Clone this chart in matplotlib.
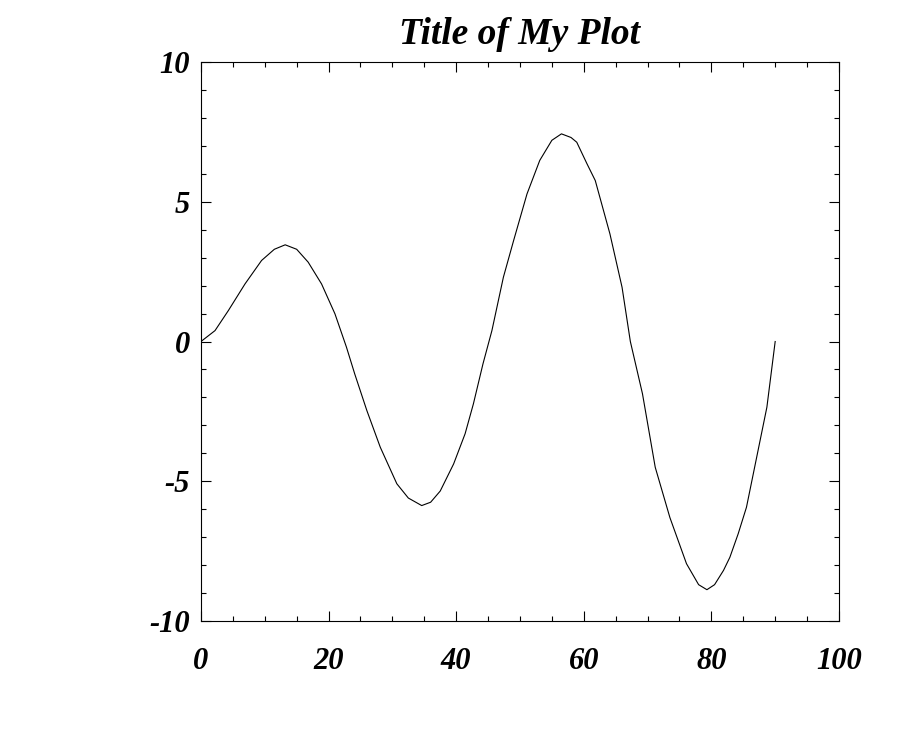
import numpy as np
import matplotlib
matplotlib.use('Agg')
import matplotlib.pyplot as plt
from matplotlib.ticker import MultipleLocator

# values
x_vals = [0.0, 2.2, 4.3, 6.9, 9.5, 11.5, 13.2, 15.0, 16.8, 18.9, 21.0, 22.8,
          24.1, 26.0, 28.1, 30.7, 32.5, 34.6, 36.0, 37.5, 39.6, 41.4, 42.7,
          44.2, 45.6, 47.4, 49.0, 51.1, 53.1, 55.0, 56.5, 58.0, 58.9, 60.5,
          61.8, 64.1, 66.0, 67.3, 69.2, 71.2, 73.5, 76.1, 78.0, 79.3, 80.5,
          81.9, 82.9, 84.2, 85.5, 87.1, 88.7, 90.0]
y_vals = [0.0, 0.39, 1.11, 2.06, 2.9, 3.3, 3.46, 3.3, 2.84, 2.06, 0.99, -0.2,
          -1.16, -2.47, -3.78, -5.09, -5.6, -5.87, -5.75, -5.35, -4.38, -3.3, -2.23,
          -0.8, 0.39, 2.3, 3.61, 5.28, 6.48, 7.2, 7.43, 7.3, 7.13, 6.36,
          5.76, 3.85, 1.94, 0.0, -1.87, -4.5, -6.3, -7.95, -8.7, -8.88, -8.7,
          -8.19, -7.72, -6.88, -5.93, -4.14, -2.35, 0.0]

plt.rcParams['axes.unicode_minus'] = False
font = {'family': ['Liberation Serif', 'DejaVu Serif'], 'style': 'italic', 'weight': 'bold'}

fig = plt.figure(figsize=(9, 7.5), dpi=100)
ax = fig.add_axes([0.2233, 0.172, 0.7089, 0.7453])

ax.plot(x_vals, y_vals, color='black', linewidth=0.8)

ax.set_xlim(0, 100)
ax.set_ylim(-10, 10)
ax.xaxis.set_major_locator(MultipleLocator(20))
ax.xaxis.set_minor_locator(MultipleLocator(5))
ax.yaxis.set_major_locator(MultipleLocator(5))
ax.yaxis.set_minor_locator(MultipleLocator(1))

ax.tick_params(which='both', direction='in', top=True, right=True, width=0.8)
ax.tick_params(which='major', length=7)
ax.tick_params(which='minor', length=3.5)
ax.tick_params(axis='x', which='major', pad=19)
ax.tick_params(axis='y', which='major', pad=8)

for lab in ax.get_xticklabels() + ax.get_yticklabels():
    lab.set_fontfamily(font['family'])
    lab.set_fontstyle('italic')
    lab.set_fontweight('bold')
    lab.set_fontsize(22)

for s in ax.spines.values():
    s.set_linewidth(0.8)

ax.set_title('Title of My Plot', fontsize=27, pad=13, **font)

fig.savefig('out.png', dpi=100)
